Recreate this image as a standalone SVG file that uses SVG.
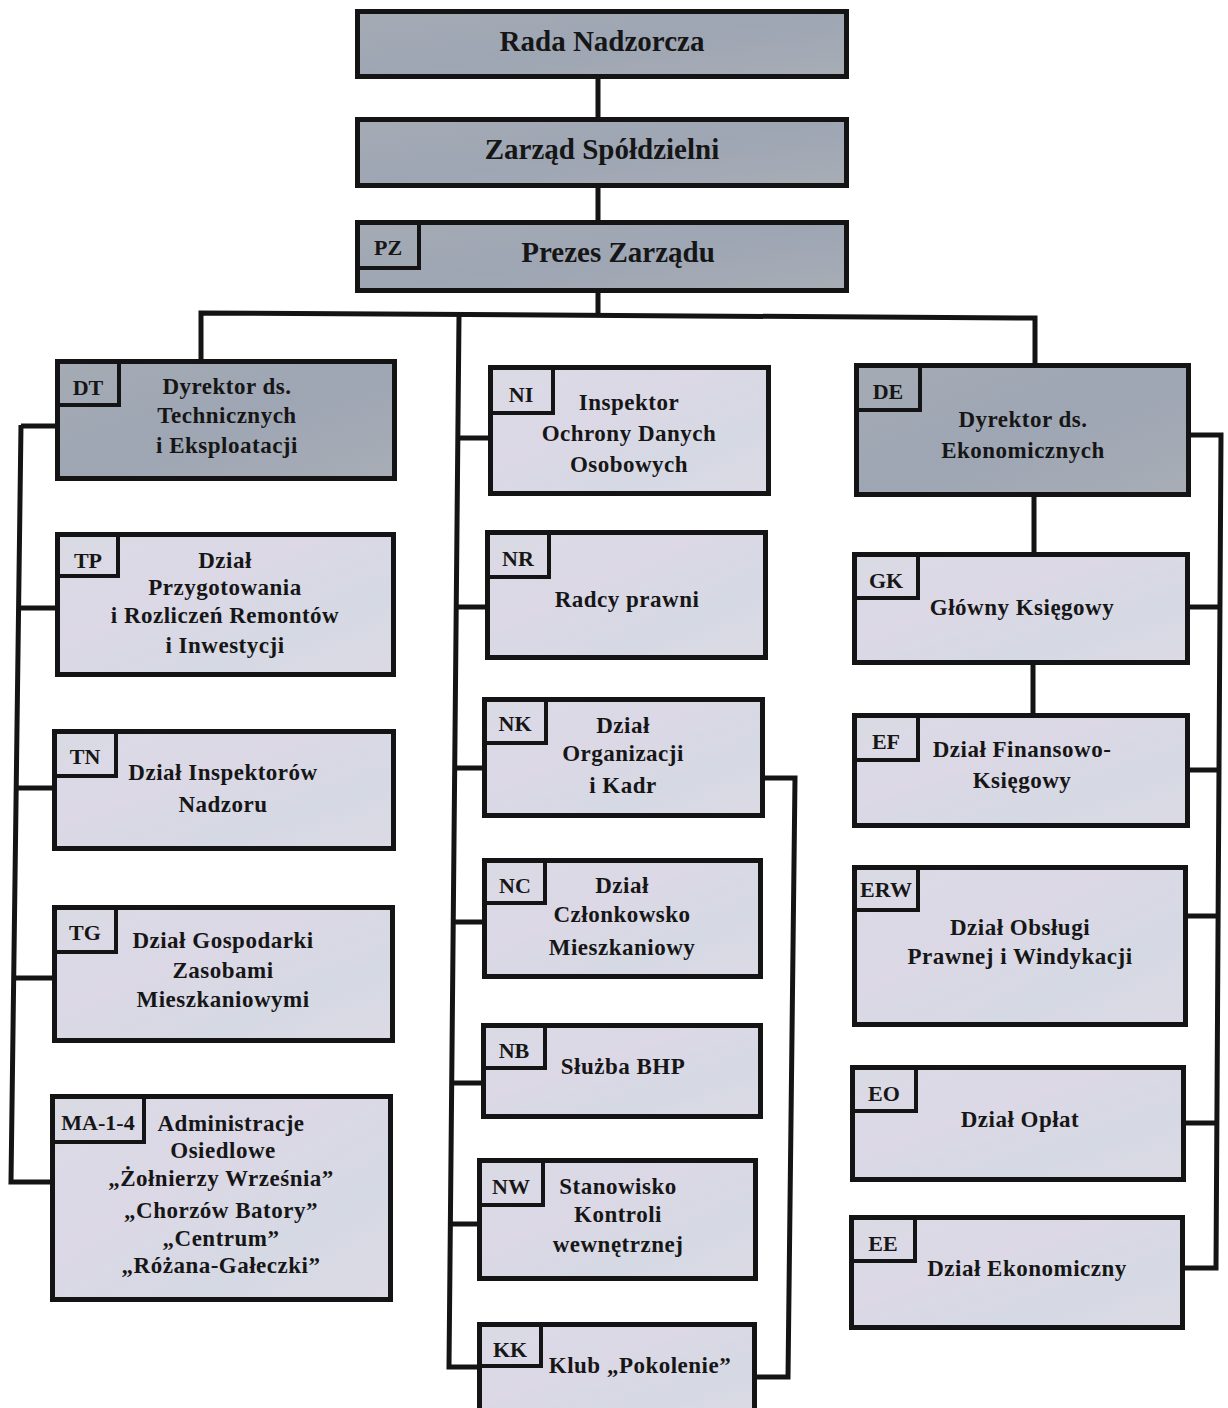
<svg xmlns="http://www.w3.org/2000/svg" width="1228" height="1408" viewBox="0 0 1228 1408">
<defs>
<linearGradient id="gDark" x1="0" y1="0" x2="1" y2="1">
<stop offset="0" stop-color="#a4abb4"/>
<stop offset="0.5" stop-color="#9ea6b4"/>
<stop offset="1" stop-color="#a8adb5"/>
</linearGradient>
<linearGradient id="gLight" x1="0" y1="0" x2="1" y2="1">
<stop offset="0" stop-color="#d9dae4"/>
<stop offset="0.4" stop-color="#dcd8e6"/>
<stop offset="0.7" stop-color="#d5d9e4"/>
<stop offset="1" stop-color="#dcdae4"/>
</linearGradient>
</defs>
<style>
.box{stroke:#141414;stroke-width:5}
.dark{fill:url(#gDark)}
.light{fill:url(#gLight)}
.lab{fill:none;stroke:#141414;stroke-width:4}
.conn{fill:none;stroke:#141414;stroke-width:5;stroke-linejoin:miter}
text{font-family:"Liberation Serif","Times New Roman",serif;font-weight:bold;fill:#161616;text-anchor:middle}
.t{font-size:23px;letter-spacing:0.5px}
.h{font-size:29px}
.c{font-size:22px}
</style>
<rect width="1228" height="1408" fill="#ffffff"/>

<g id="connectors">
<path class="conn" d="M598 79 V117 M598 188 V220 M598 293 V316"/>
<path class="conn" d="M201 359 V313 L1035 318 V363"/>
<path class="conn" d="M459 316 L449 1367 H477"/>
<path class="conn" d="M21 425 L11 1182 H50"/>
<path class="conn" d="M21 426 H55 M20 608 H55 M18 788 H52 M16 978 H52"/>
<path class="conn" d="M458 438 H488 M456 607 H485 M455 768 H482 M454 922 H482 M453 1083 H481 M451 1224 H477"/>
<path class="conn" d="M765 778 H795 L788 1377 H757"/>
<path class="conn" d="M1034 497 V552 M1033 665 V713"/>
<path class="conn" d="M1191 435 H1221 L1216 1268 H1185 M1190 607 H1220 M1190 770 H1219 M1188 916 H1219 M1186 1123 H1217"/>
</g>

<g id="rada">
<rect class="box dark" x="357.5" y="11.5" width="489" height="65"/>
<text class="h" x="602" y="51">Rada Nadzorcza</text>
</g>
<g id="zarzad">
<rect class="box dark" x="357.5" y="119.5" width="489" height="66"/>
<text class="h" x="602" y="159">Zarząd Spółdzielni</text>
</g>
<g id="prezes">
<rect class="box dark" x="357.5" y="222.5" width="489" height="68"/>
<path class="lab" d="M357 268 H419 V222"/>
<text class="c" x="388" y="255">PZ</text>
<text class="h" x="618" y="262">Prezes Zarządu</text>
</g>

<g id="DT">
<rect class="box dark" x="57.5" y="361.5" width="337" height="117"/>
<path class="lab" d="M57 405 H119 V361"/>
<text class="c" x="88" y="395">DT</text>
<text class="t" x="227" y="394">Dyrektor ds.</text>
<text class="t" x="227" y="423">Technicznych</text>
<text class="t" x="227" y="453">i Eksploatacji</text>
</g>
<g id="TP">
<rect class="box light" x="57.5" y="534.5" width="336" height="140"/>
<path class="lab" d="M57 576 H118 V534"/>
<text class="c" x="88" y="568">TP</text>
<text class="t" x="225" y="568">Dział</text>
<text class="t" x="225" y="595">Przygotowania</text>
<text class="t" x="225" y="623">i Rozliczeń Remontów</text>
<text class="t" x="225" y="653">i Inwestycji</text>
</g>
<g id="TN">
<rect class="box light" x="54.5" y="731.5" width="339" height="117"/>
<path class="lab" d="M54 776 H116 V731"/>
<text class="c" x="85" y="764">TN</text>
<text class="t" x="223" y="780">Dział Inspektorów</text>
<text class="t" x="223" y="812">Nadzoru</text>
</g>
<g id="TG">
<rect class="box light" x="54.5" y="907.5" width="338" height="133"/>
<path class="lab" d="M54 952 H116 V907"/>
<text class="c" x="85" y="940">TG</text>
<text class="t" x="223" y="948">Dział Gospodarki</text>
<text class="t" x="223" y="978">Zasobami</text>
<text class="t" x="223" y="1007">Mieszkaniowymi</text>
</g>
<g id="MA">
<rect class="box light" x="52.5" y="1096.5" width="338" height="203"/>
<path class="lab" d="M52 1142 H144 V1096"/>
<text class="c" x="98" y="1130">MA-1-4</text>
<text class="t" x="231" y="1131">Administracje</text>
<text class="t" x="223" y="1158">Osiedlowe</text>
<text class="t" x="221" y="1186">„Żołnierzy Września”</text>
<text class="t" x="221" y="1218">„Chorzów Batory”</text>
<text class="t" x="221" y="1246">„Centrum”</text>
<text class="t" x="221" y="1273">„Różana-Gałeczki”</text>
</g>

<g id="NI">
<rect class="box light" x="490.5" y="367.5" width="278" height="126"/>
<path class="lab" d="M490 413 H553 V367"/>
<text class="c" x="521" y="402">NI</text>
<text class="t" x="629" y="410">Inspektor</text>
<text class="t" x="629" y="441">Ochrony Danych</text>
<text class="t" x="629" y="472">Osobowych</text>
</g>
<g id="NR">
<rect class="box light" x="487.5" y="532.5" width="278" height="125"/>
<path class="lab" d="M487 577 H549 V532"/>
<text class="c" x="518" y="566">NR</text>
<text class="t" x="627" y="607">Radcy prawni</text>
</g>
<g id="NK">
<rect class="box light" x="484.5" y="699.5" width="278" height="116"/>
<path class="lab" d="M484 743 H546 V699"/>
<text class="c" x="515" y="731">NK</text>
<text class="t" x="623" y="733">Dział</text>
<text class="t" x="623" y="761">Organizacji</text>
<text class="t" x="623" y="793">i Kadr</text>
</g>
<g id="NC">
<rect class="box light" x="484.5" y="860.5" width="276" height="116"/>
<path class="lab" d="M484 903 H545 V860"/>
<text class="c" x="515" y="893">NC</text>
<text class="t" x="622" y="893">Dział</text>
<text class="t" x="622" y="922">Członkowsko</text>
<text class="t" x="622" y="955">Mieszkaniowy</text>
</g>
<g id="NB">
<rect class="box light" x="483.5" y="1025.5" width="277" height="91"/>
<path class="lab" d="M483 1068 H545 V1025"/>
<text class="c" x="514" y="1058">NB</text>
<text class="t" x="623" y="1074">Służba BHP</text>
</g>
<g id="NW">
<rect class="box light" x="479.5" y="1160.5" width="276" height="118"/>
<path class="lab" d="M479 1205 H543 V1160"/>
<text class="c" x="511" y="1194">NW</text>
<text class="t" x="618" y="1194">Stanowisko</text>
<text class="t" x="618" y="1222">Kontroli</text>
<text class="t" x="618" y="1252">wewnętrznej</text>
</g>
<g id="KK">
<rect class="box light" x="479.5" y="1324.5" width="275" height="100"/>
<path class="lab" d="M479 1366 H541 V1324"/>
<text class="c" x="510" y="1357">KK</text>
<text class="t" x="640" y="1373">Klub „Pokolenie”</text>
</g>

<g id="DE">
<rect class="box dark" x="856.5" y="365.5" width="332" height="129"/>
<path class="lab" d="M856 410 H920 V365"/>
<text class="c" x="888" y="399">DE</text>
<text class="t" x="1023" y="427">Dyrektor ds.</text>
<text class="t" x="1023" y="458">Ekonomicznych</text>
</g>
<g id="GK">
<rect class="box light" x="854.5" y="554.5" width="333" height="108"/>
<path class="lab" d="M854 598 H918 V554"/>
<text class="c" x="886" y="588">GK</text>
<text class="t" x="1022" y="615">Główny Księgowy</text>
</g>
<g id="EF">
<rect class="box light" x="854.5" y="715.5" width="333" height="110"/>
<path class="lab" d="M854 760 H918 V715"/>
<text class="c" x="886" y="749">EF</text>
<text class="t" x="1022" y="757">Dział Finansowo-</text>
<text class="t" x="1022" y="788">Księgowy</text>
</g>
<g id="ERW">
<rect class="box light" x="854.5" y="867.5" width="331" height="157"/>
<path class="lab" d="M854 910 H918 V867"/>
<text class="c" x="886" y="897">ERW</text>
<text class="t" x="1020" y="935">Dział Obsługi</text>
<text class="t" x="1020" y="964">Prawnej i Windykacji</text>
</g>
<g id="EO">
<rect class="box light" x="852.5" y="1067.5" width="331" height="112"/>
<path class="lab" d="M852 1111 H916 V1067"/>
<text class="c" x="884" y="1101">EO</text>
<text class="t" x="1020" y="1127">Dział Opłat</text>
</g>
<g id="EE">
<rect class="box light" x="851.5" y="1217.5" width="331" height="110"/>
<path class="lab" d="M851 1261 H915 V1217"/>
<text class="c" x="883" y="1251">EE</text>
<text class="t" x="1027" y="1276">Dział Ekonomiczny</text>
</g>
</svg>
